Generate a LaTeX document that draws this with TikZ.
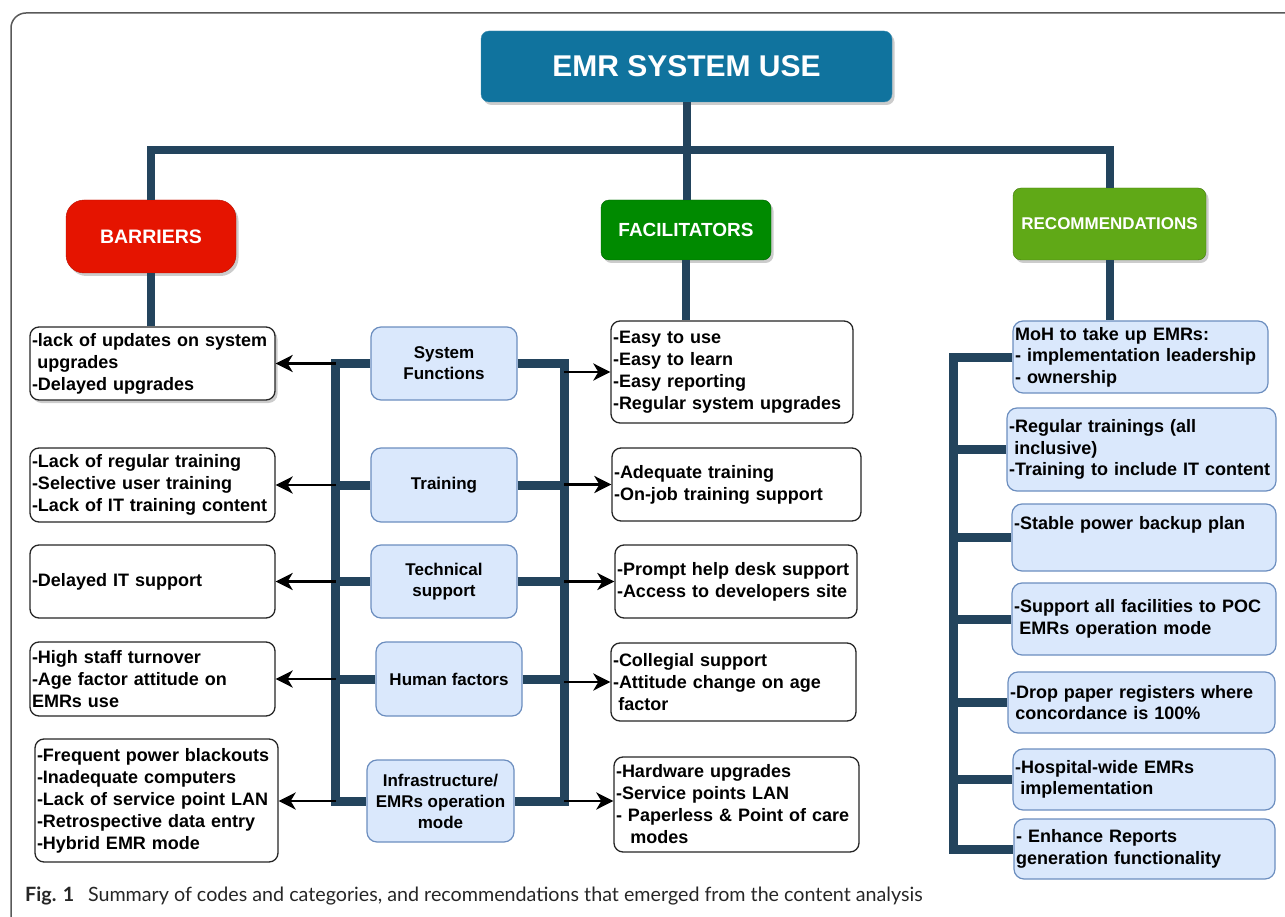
\documentclass[tikz,border=0pt]{standalone}
\usepackage{fontspec}
\setmainfont{Liberation Sans}
\newfontfamily\capfont{Lato}
\usetikzlibrary{arrows.meta,shadows,positioning}
\definecolor{navy}{HTML}{23445D}
\definecolor{titleblue}{HTML}{10739E}
\definecolor{barred}{HTML}{E51400}
\definecolor{facgreen}{HTML}{008A00}
\definecolor{recgreen}{HTML}{60A917}
\definecolor{catfill}{HTML}{DAE8FC}
\definecolor{catline}{HTML}{6C8EBF}
\newcommand{\ind}{\hspace*{0.3em}}

\begin{document}
\begin{tikzpicture}[x=1pt,y=-1pt]
        \tikzstyle{head}=[draw, rounded corners=8pt, text=white, font=\bfseries, drop shadow={shadow xshift=2.5pt, shadow yshift=-3pt, fill=black!40}]
        \tikzstyle{note}=[draw=black!85, line width=1.3pt, rounded corners=9pt, fill=white, align=left, inner sep=2pt, font=\fontsize{18pt}{22pt}\selectfont\bfseries]
        \tikzstyle{cat}=[draw=catline, line width=1.2pt, fill=catfill, rounded corners=10pt, align=center, font=\fontsize{17pt}{21pt}\selectfont\bfseries]
        \tikzstyle{reco}=[draw=catline, line width=1.2pt, fill=catfill, rounded corners=10pt, align=left, inner sep=2pt, font=\fontsize{18pt}{21.5pt}\selectfont\bfseries]
        \tikzstyle{trunk}=[navy, line width=8pt]
        \tikzstyle{connect}=[-{Stealth[length=17pt,width=17pt,inset=5pt]}, line width=2.8pt, black]
        \useasboundingbox (0,0) rectangle (1285,917);
        % frame and caption
        \draw[black!65, line width=1.5pt, rounded corners=15pt] (11,917) |- (1300,13);
        \node[anchor=base west, inner sep=0pt, text=black!85, font=\capfont\fontsize{19.7pt}{23pt}\selectfont] (cap) at (25,901)
          {\textbf{Fig. 1}\hspace{0.7em}Summary of codes and categories, and recommendations that emerged from the content analysis};
        % headers
        \node[head, fill=titleblue, draw=titleblue!80!white, minimum width=411pt, minimum height=71pt, font=\fontsize{30pt}{36pt}\selectfont\bfseries] (title) at (686.5,66.5) {EMR SYSTEM USE};
        \node[head, fill=barred, draw=barred!80!black, rounded corners=18pt, minimum width=170pt, minimum height=73pt, font=\fontsize{19.5pt}{24pt}\selectfont\bfseries] (barr) at (151,236.5) {BARRIERS};
        \node[head, fill=facgreen, draw=facgreen!70!black, minimum width=170pt, minimum height=60pt, font=\fontsize{19pt}{24pt}\selectfont\bfseries] (fac) at (686,230) {FACILITATORS};
        \node[head, fill=recgreen, draw=recgreen!70!black, minimum width=193pt, minimum height=72pt, font=\fontsize{17pt}{22pt}\selectfont\bfseries] (rec) at (1109.5,224) {RECOMMENDATIONS};
        \coordinate (hub) at (686,150);
        \draw[trunk] (barr.north) |- (hub) -| (rec.north);
        \draw[trunk] (title.south) -- (title.south |- fac.north);
        % barriers
        \node[note, drop shadow={shadow xshift=2.5pt, shadow yshift=-3pt, fill=black!40}, minimum width=245pt, minimum height=73pt, text width=241pt] (l1) at (152.5,363.5)
          {-lack of updates on system\\\ind upgrades\\-Delayed upgrades};
        \node[note, minimum width=245pt, minimum height=74pt, text width=241pt] (l2) at (152.5,485)
          {-Lack of regular training\\-Selective user training\\-Lack of IT training content};
        \node[note, minimum width=245pt, minimum height=73pt, text width=241pt] (l3) at (152.5,581.5) {-Delayed IT support};
        \node[note, minimum width=245pt, minimum height=74pt, text width=241pt] (l4) at (152.5,679)
          {-High staff turnover\\-Age factor attitude on\\EMRs use};
        \node[note, minimum width=243pt, minimum height=123pt, text width=239pt] (l5) at (156.5,800.5)
          {-Frequent power blackouts\\-Inadequate computers\\-Lack of service point LAN\\-Retrospective data entry\\-Hybrid EMR mode};
        \draw[trunk] (barr.south) -- (barr.south |- l1.north);
        % categories
        \node[cat, minimum width=146pt, minimum height=73pt] (m1) at (444,363.5) {System\\Functions};
        \node[cat, minimum width=146pt, minimum height=74pt] (m2) at (444,485) {Training};
        \node[cat, minimum width=146pt, minimum height=73pt] (m3) at (444,581.5) {Technical\\support};
        \node[cat, minimum width=146pt, minimum height=74pt] (m4) at (449,679) {Human factors};
        \node[cat, minimum width=147pt, minimum height=82pt] (m5) at (440.5,801) {Infrastructure/\\EMRs operation\\mode};
        \coordinate (lb) at (335.5,801);
        \coordinate (rb) at (564,801);
        \draw[trunk, line width=9pt] (m1.west) -| (lb) -- (m5.west);
        \draw[trunk, line width=9pt] (m1.east) -| (rb) -- (m5.east);
        \draw[trunk, line width=9pt] (m2.west) -- (m2.west -| lb);
        \draw[trunk, line width=9pt] (m3.west) -- (m3.west -| lb);
        \draw[trunk, line width=9pt] (m4.west) -- (m4.west -| lb);
        \draw[trunk, line width=9pt] (m2.east) -- (m2.east -| rb);
        \draw[trunk, line width=9pt] (m3.east) -- (m3.east -| rb);
        \draw[trunk, line width=9pt] (m4.east) -- (m4.east -| rb);
        % facilitators
        \node[note, minimum width=242pt, minimum height=102pt, text width=238pt] (f1) at (732,372)
          {-Easy to use\\-Easy to learn\\-Easy reporting\\-Regular system upgrades};
        \node[note, minimum width=249pt, minimum height=73pt, text width=245pt] (f2) at (736.5,484.5)
          {-Adequate training\\-On-job training support};
        \node[note, minimum width=242pt, minimum height=73pt, text width=238pt] (f3) at (736,581.5)
          {-Prompt help desk support\\-Access to developers site};
        \node[note, minimum width=245pt, minimum height=78pt, text width=241pt] (f4) at (733.5,682)
          {-Collegial support\\-Attitude change on age\\\ind factor};
        \node[note, minimum width=245pt, minimum height=95pt, text width=241pt] (f5) at (736.5,804.5)
          {-Hardware upgrades\\-Service points LAN\\- Paperless \& Point of care\\\hspace*{0.8em}modes};
        \draw[trunk] (fac.south) -- (fac.south |- f1.north);
        % arrows
        \draw[connect] (m1.west -| lb) -- (l1.east);
        \draw[connect] (m2.west -| lb) -- (l2.east);
        \draw[connect] (m3.west -| lb) -- (l3.east);
        \draw[connect] (m4.west -| lb) -- (l4.east);
        \draw[connect] (m5.west -| lb) -- (l5.east |- m5.west);
        \draw[connect] (f1.west -| rb) -- (f1.west);
        \draw[connect] (f2.west -| rb) -- (f2.west);
        \draw[connect] (f3.west -| rb) -- (f3.west);
        \draw[connect] (f4.west -| rb) -- (f4.west);
        \draw[connect] (m5.east -| rb) -- (f5.west |- m5.east);
        % recommendations
        \node[reco, minimum width=255pt, minimum height=72pt, text width=251pt] (r1) at (1140.5,357)
          {MoH to take up EMRs:\\- implementation leadership\\- ownership};
        \node[reco, minimum width=269pt, minimum height=83pt, text width=265pt] (r2) at (1141.5,449.5)
          {-Regular trainings (all\\\ind inclusive)\\-Training to include IT content};
        \node[reco, minimum width=264pt, minimum height=67pt, text width=260pt, text depth=30pt] (r3) at (1144,537.5)
          {-Stable power backup plan};
        \node[reco, minimum width=264pt, minimum height=72pt, text width=260pt] (r4) at (1144,619)
          {-Support all facilities to POC\\\ind EMRs operation mode};
        \node[reco, minimum width=267pt, minimum height=61pt, text width=263pt] (r5) at (1141.5,702.5)
          {-Drop paper registers where\\\ind concordance is 100\%};
        \node[reco, minimum width=262pt, minimum height=61pt, text width=258pt] (r6) at (1144,779.5)
          {-Hospital-wide EMRs\\\ind implementation};
        \node[reco, minimum width=261pt, minimum height=60pt, text width=257pt] (r7) at (1144.5,849)
          {- Enhance Reports\\generation functionality};
        \coordinate (qb) at (953.5,849);
        \draw[trunk] (rec.south) -- (rec.south |- r1.north);
        \draw[trunk, line width=9pt] (r1.west) -| (qb) -- (r7.west);
        \draw[trunk, line width=9pt] (r2.west) -- (r2.west -| qb);
        \draw[trunk, line width=9pt] (r3.west) -- (r3.west -| qb);
        \draw[trunk, line width=9pt] (r4.west) -- (r4.west -| qb);
        \draw[trunk, line width=9pt] (r5.west) -- (r5.west -| qb);
        \draw[trunk, line width=9pt] (r6.west) -- (r6.west -| qb);
\end{tikzpicture}
\end{document}
